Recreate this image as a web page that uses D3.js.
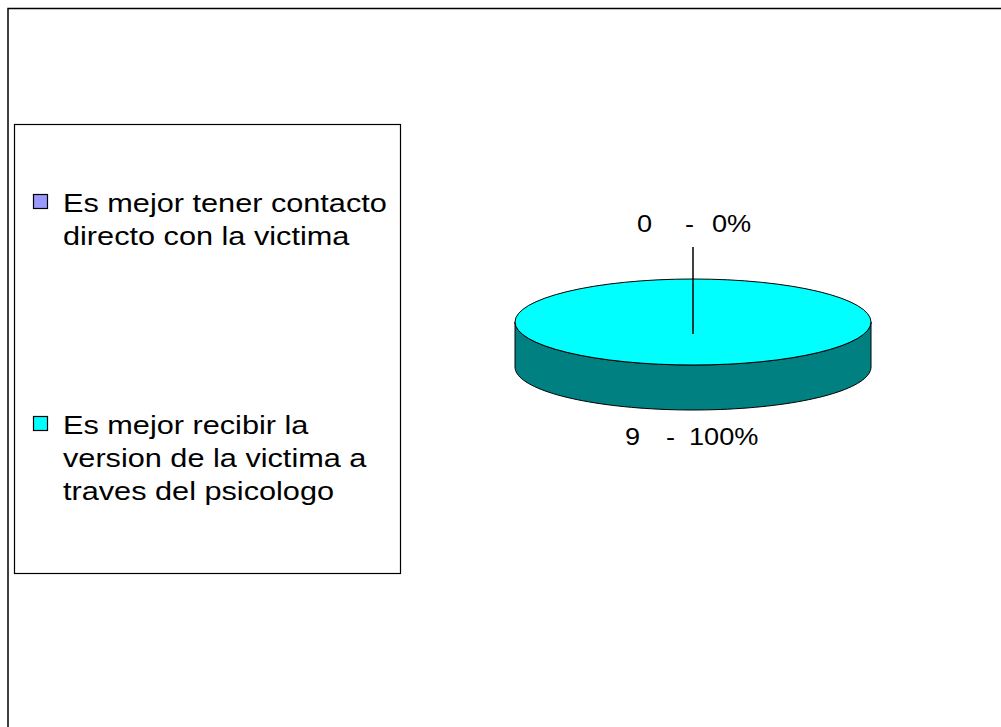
<!DOCTYPE html>
<html>
<head>
<meta charset="utf-8">
<script src="https://d3js.org/d3.v7.min.js"></script>
<style>
body { margin: 0; background: #fff; }
svg { font-family: Arial, "Liberation Sans", sans-serif; }
</style>
</head>
<body>
<svg id="chart" width="1001" height="727"></svg>
<script>
var categories = ["Es mejor tener contacto directo con la victima",
                  "Es mejor recibir la version de la victima a traves del psicologo"];
var legendLines = [["Es mejor tener contacto", "directo con la victima"],
                   ["Es mejor recibir la", "version de la victima a", "traves del psicologo"]];
var values = [0, 9];
var percents = ["0%", "100%"];
var topColors = ["#9999ff", "#00ffff"];
var sideColors = ["#4d4d80", "#008080"];

var svg = d3.select("#chart");
var stretch = 1.18; // text in the original is drawn a bit wide

// outer frame
svg.append("rect")
    .attr("x", 8).attr("y", 8.5)
    .attr("width", 1010).attr("height", 740)
    .attr("fill", "none").attr("stroke", "#000").attr("stroke-width", 1.5);

// legend box
svg.append("rect")
    .attr("x", 14.5).attr("y", 124.5)
    .attr("width", 386).attr("height", 449)
    .attr("fill", "#fff").attr("stroke", "#000").attr("stroke-width", 1.2);

var legend = svg.append("g");
var legendY = d3.scalePoint().domain(categories).range([194, 416]);

categories.forEach(function(c, i) {
  var y0 = legendY(c);
  legend.append("rect")
    .attr("x", 33.5).attr("y", y0 + 0.5)
    .attr("width", 14).attr("height", 14)
    .attr("fill", topColors[i]).attr("stroke", "#000").attr("stroke-width", 1.2);
  legendLines[i].forEach(function(t, j) {
    legend.append("text")
      .attr("transform", "translate(63," + (y0 + 18 + j * 33) + ") scale(" + stretch + ",1)")
      .attr("font-size", 26)
      .attr("fill", "#000")
      .text(t);
  });
});

// pie
var cx = 693, cy = 322, rx = 178, ry = 43, depth = 45;
var pie = d3.pie().sort(null).value(function(d) { return d; });
var arcs = pie(values);

function pt(a, r, dy) {
  // d3 angles: 0 at top, clockwise
  return [cx + rx * Math.sin(a), cy - ry * Math.cos(a) + (dy || 0)];
}

var g = svg.append("g");

// side walls (front half: angles between pi/2 and 3pi/2)
arcs.forEach(function(a, i) {
  var s = Math.max(a.startAngle, Math.PI / 2);
  var e = Math.min(a.endAngle, 3 * Math.PI / 2);
  if (e <= s) return;
  var n = 80, topPts = [], botPts = [];
  d3.range(n + 1).forEach(function(k) {
    var ang = s + (e - s) * k / n;
    topPts.push(pt(ang));
    botPts.push(pt(ang, 1, depth));
  });
  var poly = topPts.concat(botPts.reverse());
  g.append("path")
    .attr("d", d3.line()(poly) + "Z")
    .attr("fill", sideColors[i])
    .attr("stroke", "#000").attr("stroke-width", 1);
});

// top faces
var arc = d3.arc().innerRadius(0).outerRadius(rx);
arcs.forEach(function(a, i) {
  if (a.endAngle - a.startAngle <= 0) return;
  g.append("path")
    .attr("transform", "translate(" + cx + "," + cy + ") scale(1," + (ry / rx) + ")")
    .attr("d", arc(a))
    .attr("fill", topColors[i])
    .attr("stroke", "#000").attr("stroke-width", 1)
    .attr("vector-effect", "non-scaling-stroke");
});

// labels
function label(x, y, parts) {
  // parts: [text, dx] pieces laid out from x
  parts.forEach(function(p) {
    g.append("text")
      .attr("transform", "translate(" + (x + p[1]) + "," + y + ") scale(" + stretch + ",1)")
      .attr("font-size", 23).attr("fill", "#000")
      .text(p[0]);
  });
}

arcs.forEach(function(a, i) {
  var mid = (a.startAngle + a.endAngle) / 2;
  if (values[i] === 0) {
    g.append("line")
      .attr("x1", cx).attr("y1", cy + 12)
      .attr("x2", cx).attr("y2", 247)
      .attr("stroke", "#000").attr("stroke-width", 1.5);
    label(cx, 232, [[String(values[i]), -56], ["-", -8], [percents[i], 19]]);
  } else {
    var p = pt(mid, 1, depth);
    label(p[0], p[1] + 35, [[String(values[i]), -68], ["-", -27], [percents[i], -4]]);
  }
});
</script>
</body>
</html>
